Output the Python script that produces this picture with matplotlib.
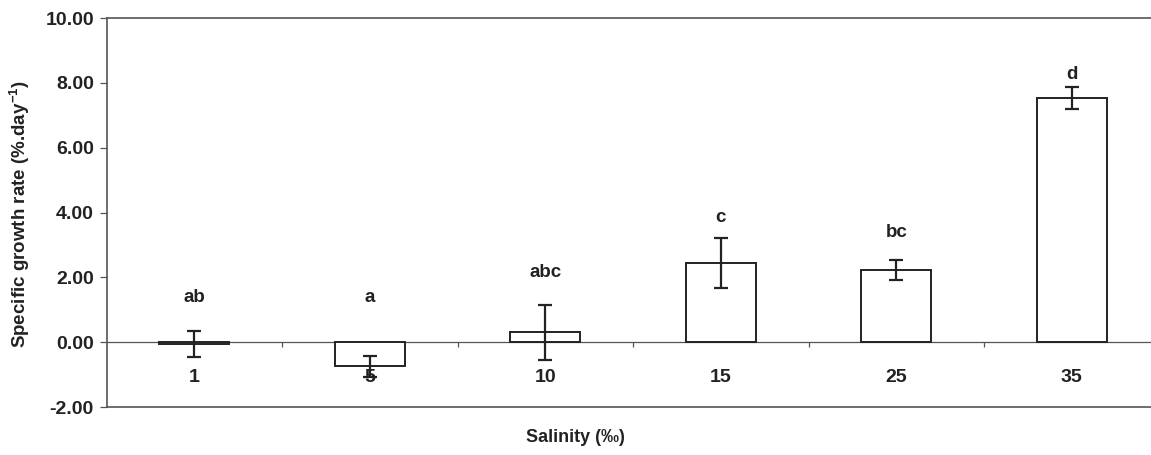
import matplotlib
matplotlib.use("Agg")
import matplotlib.pyplot as plt
import numpy as np

# salinity treatments and growth rates
salinity = ["1", "5", "10", "15", "25", "35"]
growth = [-0.05, -0.75, 0.30, 2.45, 2.22, 7.54]
err = [0.40, 0.32, 0.84, 0.77, 0.31, 0.34]
letters = ["ab", "a", "abc", "c", "bc", "d"]
letter_y = [1.38, 1.38, 2.15, 3.85, 3.38, 8.25]

plt.rcParams["font.family"] = ["Liberation Sans", "DejaVu Sans"]
plt.rcParams["font.weight"] = "bold"
plt.rcParams["mathtext.fontset"] = "custom"
plt.rcParams["mathtext.rm"] = "Liberation Sans:bold"
plt.rcParams["mathtext.it"] = "Liberation Sans:bold"
plt.rcParams["mathtext.bf"] = "Liberation Sans:bold"

ink = "#222222"
W, H = 1151, 455
fig = plt.figure(figsize=(W / 100, H / 100), dpi=100)
ax = fig.add_axes([106.5 / W, 48 / H, 1053 / W, 389 / H])

x = np.arange(len(salinity))
ax.bar(x, growth, width=0.40, facecolor="white", edgecolor=ink, linewidth=1.4, zorder=2)
ax.errorbar(x, growth, yerr=err, fmt="none", ecolor=ink, elinewidth=1.6,
            capsize=5, capthick=1.6, zorder=3)

# zero axis with category boundary ticks
ax.axhline(0, color="#555555", linewidth=0.9, zorder=1)
ax.vlines(x[:-1] + 0.5, -0.15, 0, color="#555555", linewidth=0.9, zorder=1)

for i, lab in enumerate(salinity):
    ax.text(i, -1.08, lab, ha="center", va="center", fontsize=14, color=ink)
for i, lab in enumerate(letters):
    ax.text(i, letter_y[i], lab, ha="center", va="center", fontsize=13.5, color=ink)

ax.set_xlim(-0.5, 5.5)
ax.set_ylim(-2, 10)
ax.set_xticks([])
ax.set_yticks(np.arange(-2, 10.1, 2))
ax.set_yticklabels([f"{v:.2f}" for v in np.arange(-2, 10.1, 2)], fontsize=14, color=ink)
ax.tick_params(axis="y", direction="out", length=5, width=0.9, colors="#555555",
               labelcolor=ink, pad=4)

ax.spines["right"].set_visible(False)
for s in ["left", "top", "bottom"]:
    ax.spines[s].set_color("#555555")
    ax.spines[s].set_linewidth(1.2)

fig.text(20 / W, 1 - 214 / H, r"Specific growth rate (%.day$^{-1}$)", rotation=90,
         ha="center", va="center", fontsize=13.5, color=ink)
fig.text(575 / W, 1 - 437 / H, "Salinity (‰)", ha="center", va="center",
         fontsize=13, color=ink)

fig.savefig("out.png", dpi=100)
